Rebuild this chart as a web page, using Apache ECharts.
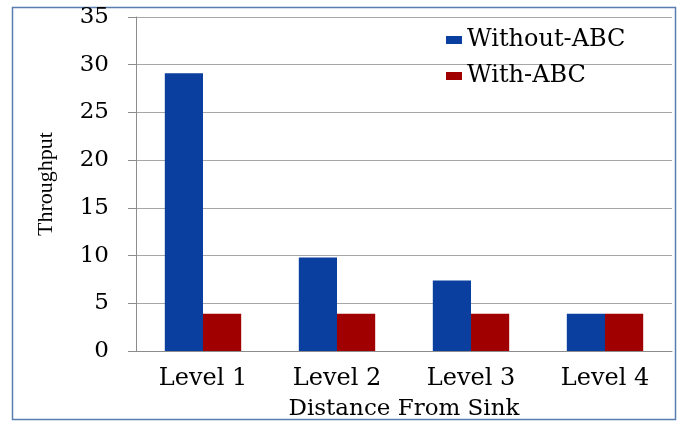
<!DOCTYPE html>
<html><head><meta charset="utf-8">
<script src="https://cdn.jsdelivr.net/npm/echarts@6/dist/echarts.min.js"></script>
<style>html,body{margin:0;padding:0;background:#fff}#c{width:680px;height:424px}</style>
</head><body><div id="c"></div>
<script>
const categories = ['Level 1', 'Level 2', 'Level 3', 'Level 4'];
const withoutABC = [29.1, 9.8, 7.4, 3.9];
const withABC = [3.9, 3.9, 3.9, 3.9];
const seriesNames = ['Without-ABC', 'With-ABC'];

const chart = echarts.init(document.getElementById('c'));
const font = 'DejaVu Serif';
chart.setOption({
  animation: false,
  backgroundColor: '#fff',
  graphic: [{
    type: 'rect', shape: { x: 12.5, y: 7.5, width: 663, height: 412 },
    style: { fill: 'none', stroke: '#5a7db0', lineWidth: 1.5 }, silent: true
  }],
  grid: { left: 136, right: 8, top: 17, bottom: 73, containLabel: false, outerBoundsMode: 'none' },
  legend: {
    left: 446, top: 28, padding: 0, orient: 'vertical', itemWidth: 16, itemHeight: 8, itemGap: 12,
    icon: 'rect',
    textStyle: { fontFamily: font, fontSize: 24, color: '#000' },
    data: seriesNames
  },
  xAxis: {
    type: 'category', data: categories,
    axisLine: { lineStyle: { color: '#8c8c8c', width: 1 } },
    axisTick: { show: false },
    axisLabel: { fontFamily: font, fontSize: 24, color: '#000', margin: 16 },
    name: 'Distance From Sink', nameLocation: 'middle', nameGap: 47,
    nameTextStyle: { fontFamily: font, fontSize: 23, color: '#000' }
  },
  yAxis: {
    type: 'value', min: 0, max: 35, interval: 5,
    axisLine: { show: true, lineStyle: { color: '#8c8c8c', width: 1 } },
    axisTick: { show: true, length: 8, lineStyle: { color: '#8c8c8c' } },
    splitLine: { lineStyle: { color: '#a6a6a6', width: 1 } },
    axisLabel: { fontFamily: font, fontSize: 23, color: '#000', margin: 27 },
    name: 'Throughput', nameLocation: 'middle', nameGap: 79, nameRotate: 90,
    nameTextStyle: { fontFamily: 'Liberation Serif', fontSize: 22, color: '#000' }
  },
  series: [
    { name: seriesNames[0], type: 'bar', data: withoutABC, barGap: '0%', barCategoryGap: '43%',
      itemStyle: { color: '#0a3fa0' } },
    { name: seriesNames[1], type: 'bar', data: withABC, barGap: '0%', barCategoryGap: '43%',
      itemStyle: { color: '#a00000' } }
  ]
});
</script></body></html>
